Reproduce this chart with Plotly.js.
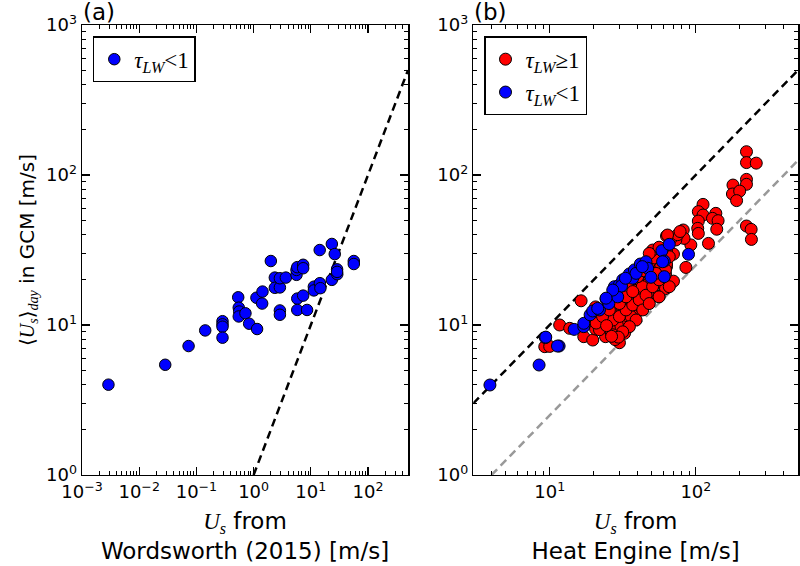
<!DOCTYPE html>
<html>
<head>
<meta charset="utf-8">
<script src="https://cdn.plot.ly/plotly-3.0.1.min.js"></script>
<style>
  html, body { margin: 0; padding: 0; background: #ffffff; }
  #chart { width: 800px; height: 566px; }
</style>
</head>
<body>
<div id="chart"></div>
<script>
// ---------- Panel (a): Wordsworth (2015) vs GCM, tau_LW < 1 ----------
const aBlueX = [0.0029, 0.0285, 0.073, 0.1425, 0.286, 0.286, 0.286, 0.286, 0.538, 0.55, 0.56, 0.55,
  0.72, 0.836, 1.15, 1.12, 1.43, 1.41, 2.0, 2.35, 2.35, 2.88, 2.88, 3.66, 2.88, 2.88,
  5.62, 5.62, 5.8, 7.35, 7.35, 5.8, 7.35, 5.8, 8.6, 11.3, 11.3, 14.4, 14.7, 14.3,
  23.3, 26.2, 23.3, 28.8, 29.0, 28.8, 56.4, 56.4];
const aBlueY = [4.0, 5.43, 7.24, 9.2, 10.6, 10.1, 9.74, 8.23, 15.3, 13.05, 12.3, 11.4,
  11.97, 10.2, 9.4, 15.2, 16.7, 13.9, 26.7, 20.7, 17.7, 17.8, 20.5, 20.7, 12.5, 11.7,
  21.6, 23.3, 24.3, 25.2, 23.9, 15.0, 15.7, 12.6, 12.6, 18.0, 17.0, 19.0, 17.6, 31.6,
  34.7, 29.7, 20.0, 23.5, 21.8, 22.6, 26.7, 25.5];
// 1:1 reference line
const aLineX = [1, 500];
const aLineY = [1, 500];

// ---------- Panel (b): Heat Engine vs GCM ----------
const bRedX = [222, 222, 259, 222, 222, 179.5, 178, 199.5, 190, 222, 239, 240,
  112, 104, 112, 104, 103, 104, 137, 130, 142, 139, 122, 85.5, 82, 92.4, 83, 73, 63,
  70.3, 70.3, 63, 56.2, 50.1, 56, 45.6, 50.6, 63, 63, 53.3,
  16.4, 11.7, 13.7, 9.25, 10.0, 17.1, 19.7, 24.1, 30, 30.5, 27, 21.9, 18.6, 25.7, 28.5,
  31.6, 32.5, 34.2, 37, 39, 41, 45.6, 37, 33.3, 30, 26.3, 23.7, 20.6, 41, 47.7, 56, 62,
  39, 43, 52, 57.6, 37, 24.3, 22.4, 20.6, 31.6, 28.5, 32.5, 26.3, 36, 42, 50.6, 56, 62,
  47.7, 26, 27, 28, 29, 25, 34, 40, 44, 48, 52, 50.6, 56, 68, 75, 78,
  25.6, 27.1, 30, 33.3, 37, 41, 45.6, 50.6, 56, 62, 65.8, 64, 48, 53.3, 39, 35.1, 31.6, 27.1,
  43.3, 48, 56, 65.8, 21.9, 18.8, 20.8, 23, 25.6, 30, 33.3, 37, 28, 29.5, 26.5, 24.5];
const bRedY = [143, 121, 120, 93.5, 86.7, 85.7, 74.7, 78.1, 67.5, 45.7, 43.4, 37.2,
  63.7, 57, 54.1, 49.3, 44.1, 40.8, 55.5, 51.4, 49.6, 43.5, 35, 24.2, 43, 34.2, 37.8, 36.9, 39.2,
  29.7, 19.6, 30.9, 28.5, 30.1, 19, 19, 20.5, 24.5, 25.5, 23.9,
  14.5, 10.0, 9.5, 7.17, 7.2, 8.36, 7.94, 8.36, 7.62, 9.35, 10.8, 11.4, 10.5, 9.75, 10.26,
  11.4, 12.3, 10.26, 13.2, 12.0, 15.1, 15.1, 16.3, 14.6, 13.2, 12.3, 12.6, 13.2, 19, 19, 21, 21.9,
  17, 18, 23.4, 24.9, 14.3, 11.0, 10.3, 9.4, 9.75, 9.2, 8.8, 9.0, 11.4, 13.2, 16.3, 15.5, 17.5,
  14.0, 9.5, 8.8, 9.2, 10.0, 10.5, 19, 21, 23, 26, 28, 31.6, 33, 38, 40, 42,
  9.5, 10.8, 11.4, 12.6, 13.6, 14.7, 15.8, 18, 20, 23.3, 28.5, 39.8, 30, 22.1, 10.8, 9.75, 9.0, 8.6,
  12.6, 13.9, 15.4, 18, 9.3, 10.8, 10.3, 11.4, 12.6, 13.9, 15.4, 16.7, 8.0, 8.3, 8.4, 9.9];
const bBlueX = [3.9, 8.46, 9.34, 11.6, 14.7, 17.1, 17.1, 18.9, 19.7, 21.9, 21.3, 24.3, 25.4,
  27.3, 27.7, 29.2, 30, 31.6, 31, 35.1, 37, 38, 39, 41.7, 45.6, 46.8, 49.3, 58.6, 60.8,
  60.8, 65.8, 89.1, 27, 24.3, 59.2, 33, 43, 11.3, 9.4];
const bBlueY = [3.98, 5.41, 8.24, 7.24, 9.35, 9.75, 10.26, 11.7, 12.4, 12.6, 12.9, 14.9, 13.9,
  16.7, 18.0, 15.4, 18.5, 20.0, 18.2, 21.9, 20.5, 23.3, 22.1, 25.5, 26.4, 23.9, 20.8, 31.3, 26.7,
  21.0, 34.5, 29.6, 17.1, 15.1, 26.4, 20.5, 24.5, 7.24, 8.3];
// reference lines: 1:1 (black) and 1:4 (gray)
const bLineX = [3, 500];
const bLineY = [3, 500];
const bGrayX = [4, 500];
const bGrayY = [1, 125];

// ---------- tick labels ----------
const aXTickVals = [0.001, 0.01, 0.1, 1, 10, 100];
const aXTickText = ['10<sup>−3</sup>', '10<sup>−2</sup>', '10<sup>−1</sup>', '10<sup>0</sup>', '10<sup>1</sup>', '10<sup>2</sup>'];
const bXTickVals = [10, 100];
const bXTickText = ['10<sup>1</sup>', '10<sup>2</sup>'];
const yTickVals = [1, 10, 100, 1000];
const yTickText = ['10<sup>0</sup>', '10<sup>1</sup>', '10<sup>2</sup>', '10<sup>3</sup>'];

function minorVals(lo, hi) {
  const out = [];
  for (let d = -4; d <= 3; d++) {
    for (let m = 2; m <= 9; m++) {
      const v = m * Math.pow(10, d);
      if (v > lo && v < hi) out.push(v);
    }
  }
  return out;
}

const SERIF = 'Liberation Serif';
const SANS = 'DejaVu Sans';
const mi = (t) => `<span style="font-family:${SERIF};font-style:italic">${t}</span>`;
const tauLess = `${mi('τ')}<sub>${mi('LW')}</sub><span style="font-family:${SERIF}">&lt;1</span>`;
const tauGeq = `${mi('τ')}<sub>${mi('LW')}</sub><span style="font-family:${SERIF}">≥1</span>`;

const dashLine = '8px,5px';

const traces = [
  { x: aLineX, y: aLineY, xaxis: 'x', yaxis: 'y', mode: 'lines', showlegend: false,
    line: { color: '#000000', width: 2.5, dash: dashLine }, hoverinfo: 'skip' },
  { x: aBlueX, y: aBlueY, xaxis: 'x', yaxis: 'y', mode: 'markers', type: 'scatter', name: tauLess,
    legend: 'legend', marker: { color: '#0000ff', size: 11.5, line: { color: '#000000', width: 1 } } },
  { x: bLineX, y: bLineY, xaxis: 'x2', yaxis: 'y2', mode: 'lines', showlegend: false,
    line: { color: '#000000', width: 2.5, dash: dashLine }, hoverinfo: 'skip' },
  { x: bGrayX, y: bGrayY, xaxis: 'x2', yaxis: 'y2', mode: 'lines', showlegend: false,
    line: { color: '#999999', width: 2.5, dash: dashLine }, hoverinfo: 'skip' },
  { x: bRedX, y: bRedY, xaxis: 'x2', yaxis: 'y2', mode: 'markers', type: 'scatter', name: tauGeq,
    legend: 'legend2', marker: { color: '#ff0000', size: 12, line: { color: '#000000', width: 1 } } },
  { x: bBlueX, y: bBlueY, xaxis: 'x2', yaxis: 'y2', mode: 'markers', type: 'scatter', name: tauLess,
    legend: 'legend2', marker: { color: '#0000ff', size: 12, line: { color: '#000000', width: 1 } } }
];

function axisCommon() {
  return {
    type: 'log', showgrid: false, zeroline: false, showline: true, linecolor: '#000000', linewidth: 1.5,
    mirror: 'allticks', ticks: 'inside', ticklen: 8, tickwidth: 1.2, tickcolor: '#000000',
    tickfont: { family: SANS, size: 18, color: '#000000' }, automargin: false, tickmode: 'array'
  };
}

const yDomain = [0.1608, 0.9558];

const layout = {
  width: 800, height: 566,
  margin: { l: 0, r: 0, t: 0, b: 0 },
  paper_bgcolor: '#ffffff', plot_bgcolor: '#ffffff',
  font: { family: SANS, color: '#000000' },
  xaxis: Object.assign(axisCommon(), {
    domain: [0.1025, 0.51], range: [-3, Math.log10(500)], anchor: 'y',
    tickvals: aXTickVals, ticktext: aXTickText,
    minor: { tickmode: 'array', tickvals: minorVals(0.001, 500), ticks: 'inside', ticklen: 4, tickwidth: 1, tickcolor: '#000000', showgrid: false },
    title: { text: `${mi('U')}<sub>${mi('s')}</sub> from<br>Wordsworth (2015) [m/s]`, font: { family: SANS, size: 23 }, standoff: 12 }
  }),
  yaxis: Object.assign(axisCommon(), {
    domain: yDomain, range: [0, 3], anchor: 'x',
    tickvals: yTickVals, ticktext: yTickText,
    minor: { tickmode: 'array', tickvals: minorVals(1, 1000), ticks: 'inside', ticklen: 4, tickwidth: 1, tickcolor: '#000000', showgrid: false },
    title: { text: `⟨${mi('U')}<sub>${mi('s')}</sub>⟩<sub>${mi('day')}</sub> in GCM [m/s]`, font: { family: SANS, size: 20 }, standoff: 6 }
  }),
  xaxis2: Object.assign(axisCommon(), {
    domain: [0.5916, 0.9975], range: [Math.log10(3), Math.log10(500)], anchor: 'y2',
    tickvals: bXTickVals, ticktext: bXTickText,
    minor: { tickmode: 'array', tickvals: minorVals(3, 500), ticks: 'inside', ticklen: 4, tickwidth: 1, tickcolor: '#000000', showgrid: false },
    title: { text: `${mi('U')}<sub>${mi('s')}</sub> from<br>Heat Engine [m/s]`, font: { family: SANS, size: 23 }, standoff: 12 }
  }),
  yaxis2: Object.assign(axisCommon(), {
    domain: yDomain, range: [0, 3], anchor: 'x2',
    tickvals: yTickVals, ticktext: yTickText,
    minor: { tickmode: 'array', tickvals: minorVals(1, 1000), ticks: 'inside', ticklen: 4, tickwidth: 1, tickcolor: '#000000', showgrid: false }
  }),
  legend: {
    x: 0.116, y: 0.936, xanchor: 'left', yanchor: 'top',
    bgcolor: '#ffffff', bordercolor: '#000000', borderwidth: 1.5,
    font: { family: SERIF, size: 23, color: '#000000' }
  },
  legend2: {
    x: 0.605, y: 0.936, xanchor: 'left', yanchor: 'top',
    bgcolor: '#ffffff', bordercolor: '#000000', borderwidth: 1.5,
    font: { family: SERIF, size: 23, color: '#000000' }
  },
  annotations: [
    { text: '(a)', xref: 'paper', yref: 'paper', x: 0.101, y: 1.005, xanchor: 'left', yanchor: 'top',
      showarrow: false, font: { family: SANS, size: 23, color: '#000000' } },
    { text: '(b)', xref: 'paper', yref: 'paper', x: 0.590, y: 1.005, xanchor: 'left', yanchor: 'top',
      showarrow: false, font: { family: SANS, size: 23, color: '#000000' } }
  ],
  showlegend: true
};

Plotly.newPlot('chart', traces, layout, { staticPlot: true, displayModeBar: false });
</script>
</body>
</html>
